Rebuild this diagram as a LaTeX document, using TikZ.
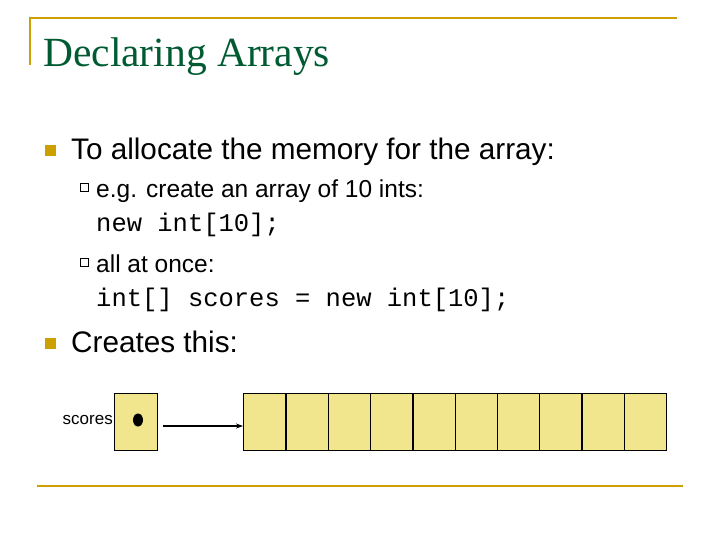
\documentclass[tikz,border=0pt]{standalone}
\usepackage{fontspec}
\usetikzlibrary{arrows.meta}
\setmainfont{Liberation Sans}
\newfontfamily\serifT{Liberation Serif}
\newfontfamily\monoT{Liberation Mono}
\definecolor{gold}{RGB}{204,160,0}
\definecolor{tgreen}{RGB}{0,90,50}
\definecolor{cellfill}{RGB}{241,229,142}
\begin{document}
\begin{tikzpicture}[x=1pt,y=-1pt,
  txt/.style={anchor=base west,inner sep=0pt},
  cell/.style={draw=black,line width=1.3pt,fill=cellfill,minimum width=42.3pt,minimum height=57pt,inner sep=0pt,anchor=north west}]
\useasboundingbox (0,0) rectangle (720,540);
\draw[gold,line width=2.5pt] (30,65) -- (30,18) -- (677,18);
\draw[gold,line width=2.5pt] (37,486) -- (683,486);
\node[txt,text=tgreen,font=\serifT\fontsize{41.5}{44}\selectfont] (title) at (43,67) {Declaring Arrays};
\fill[gold] (45,145) rectangle (56,156);
\node[txt,font=\fontsize{29.7}{32}\selectfont] (b1) at (71,160) {To allocate the memory for the array:};
\draw[black,line width=0.6pt] (80,183) rectangle (88,191);
\node[txt,font=\fontsize{24.5}{26}\selectfont] (s1) at (96,197) {e.g. create an array of 10 ints:};
\node[txt,font=\monoT\fontsize{25.5}{26}\selectfont] (c1) at (96,231) {new int[10];};
\draw[black,line width=0.6pt] (80,258) rectangle (88,266);
\node[txt,font=\fontsize{24.5}{26}\selectfont] (s2) at (96,272) {all at once:};
\node[txt,font=\monoT\fontsize{25.5}{26}\selectfont] (c2) at (96,306) {int[] scores = new int[10];};
\fill[gold] (45,338) rectangle (56,349);
\node[txt,font=\fontsize{29.7}{32}\selectfont] (b2) at (71,352) {Creates this:};
\node[cell,minimum width=43pt] (ref) at (114,393) {};
\fill (138,420) ellipse (5pt and 6.5pt);
\node[anchor=base east,inner sep=0pt,font=\fontsize{17}{18}\selectfont] (lab) at (113,424) {scores};
\foreach \i in {0,...,9} {\node[cell] (a\i) at (243+\i*42.3,393) {};}
\coordinate (st) at (163,426);
\draw[-{Stealth[length=7pt,width=5pt]},line width=1.2pt] (st) -- (a0.west |- st);
\end{tikzpicture}
\end{document}
